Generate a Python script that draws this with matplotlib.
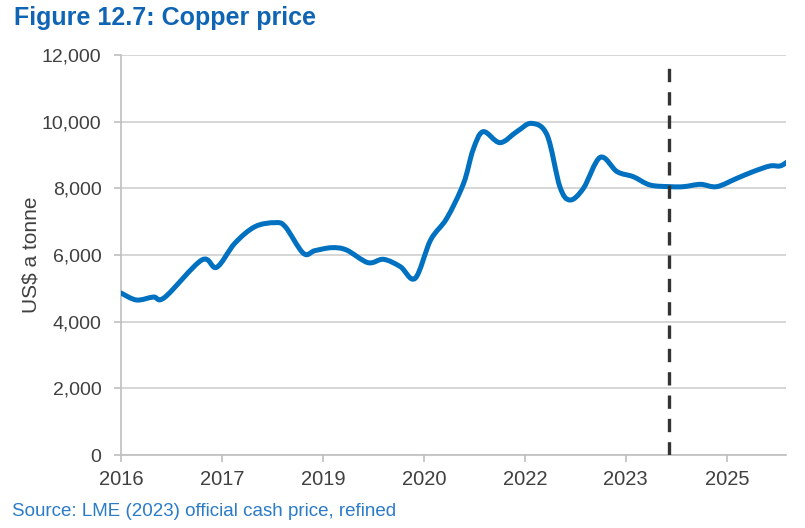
import numpy as np
import matplotlib
matplotlib.use("Agg")
import matplotlib.pyplot as plt
from matplotlib.path import Path
from matplotlib.patches import PathPatch

# copper price, US$ a tonne (x in fractional years)
years = [2016.00, 2016.23, 2016.48, 2016.65, 2017.20, 2017.42, 2017.69, 2017.99,
         2018.29, 2018.44, 2018.71, 2018.88, 2019.13, 2019.35, 2019.67, 2019.90,
         2020.15, 2020.37, 2020.60, 2020.84, 2021.09, 2021.23, 2021.38, 2021.63,
         2021.88, 2022.10, 2022.33, 2022.52, 2022.67, 2022.87, 2023.12, 2023.37,
         2023.61, 2023.86, 2024.16, 2024.36, 2024.61, 2024.85, 2025.15, 2025.39,
         2025.64, 2025.79, 2025.89]
price = [4860, 4650, 4740, 4730, 5850, 5630, 6350, 6850,
         6970, 6850, 6050, 6130, 6220, 6150, 5770, 5870,
         5650, 5300, 6450, 7100, 8150, 9150, 9700, 9370,
         9700, 9950, 9600, 8050, 7650, 8000, 8930, 8500,
         8350, 8100, 8050, 8050, 8120, 8050, 8300, 8500,
         8670, 8670, 8780]

tick_pos = [2016.0, 2017.5, 2019.0, 2020.5, 2022.0, 2023.5, 2025.0]
tick_labels = ["2016", "2017", "2019", "2020", "2022", "2023", "2025"]
forecast_start = 2024.14

blue = "#0070c0"
grey_text = "#404040"
fam = ["Liberation Sans", "DejaVu Sans"]


def smooth_path(xs, ys, tension=1 / 6):
    # cubic bezier through the points (Catmull-Rom style), like Excel smoothing
    xs = np.asarray(xs, float)
    ys = np.asarray(ys, float)
    verts = [(xs[0], ys[0])]
    codes = [Path.MOVETO]
    n = len(xs)
    for i in range(n - 1):
        i0 = max(i - 1, 0)
        i3 = min(i + 2, n - 1)
        c1 = (xs[i] + (xs[i + 1] - xs[i0]) * tension, ys[i] + (ys[i + 1] - ys[i0]) * tension)
        c2 = (xs[i + 1] - (xs[i3] - xs[i]) * tension, ys[i + 1] - (ys[i3] - ys[i]) * tension)
        verts += [c1, c2, (xs[i + 1], ys[i + 1])]
        codes += [Path.CURVE4] * 3
    return Path(verts, codes)


fig = plt.figure(figsize=(8.05, 5.28), dpi=100)
ax = fig.add_axes([121 / 805, 1 - 455 / 528, 665 / 805, 400 / 528])

ax.add_patch(PathPatch(smooth_path(years, price), facecolor="none", edgecolor=blue,
                       lw=3.6, capstyle="round", joinstyle="round", zorder=3))
ax.axvline(forecast_start, ymax=0.985, color="#333333", lw=2.4, ls=(0, (4, 3)), zorder=4)

ax.set_xlim(2016.0, 2025.88)
ax.set_ylim(0, 12000)
ax.set_yticks(range(0, 12001, 2000))
ax.set_yticklabels([f"{v:,}" for v in range(0, 12001, 2000)],
                   fontsize=14, color=grey_text, family=fam)
ax.set_xticks(tick_pos)
ax.set_xticklabels(tick_labels, fontsize=14.5, color=grey_text, family=fam)

ax.grid(axis="y", color="#d0d0d0", lw=1.2)
ax.set_axisbelow(True)
for s in ["top", "right"]:
    ax.spines[s].set_visible(False)
for s in ["left", "bottom"]:
    ax.spines[s].set_color("#bfbfbf")
    ax.spines[s].set_linewidth(1.2)
ax.tick_params(axis="y", length=5, width=1.2, color="#bfbfbf", pad=9)
ax.tick_params(axis="x", length=5, width=1.2, color="#bfbfbf", pad=6)

ax.set_ylabel("US$ a tonne", fontsize=15, color=grey_text, family=fam, labelpad=1)

fig.text(14 / 805, 1 - 18 / 528, "Figure 12.7: Copper price", fontsize=18,
         fontweight="bold", color="#0f64b4", family=fam, va="center", ha="left")
fig.text(12 / 805, 1 - 512 / 528, "Source: LME (2023) official cash price, refined",
         fontsize=13.5, color="#2a7bc8", family=fam, va="center", ha="left")

fig.savefig("out.png", dpi=100)
